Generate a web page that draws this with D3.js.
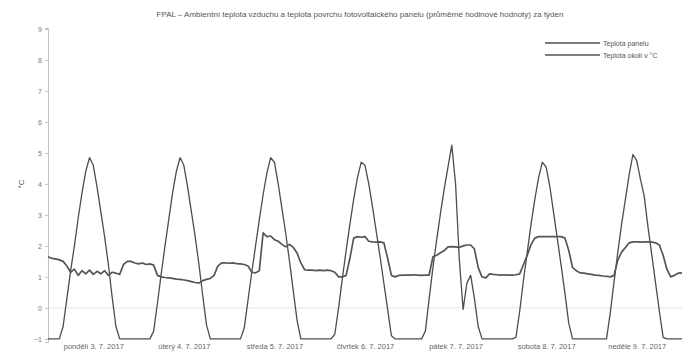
<!DOCTYPE html>
<html>
<head>
<meta charset="utf-8">
<script src="https://cdn.jsdelivr.net/npm/d3@7/dist/d3.min.js"></script>
<style>
  html, body { margin: 0; padding: 0; background: #fff; }
  svg { display: block; font-family: "Liberation Sans", Arial, sans-serif; }
</style>
</head>
<body>
<svg id="chart" width="688" height="354"></svg>
<script>
// Week of hourly readings, 00:00 on the first day through 00:00 after the last
const startDate = "2017-07-03T00:00:00";
const dayLabels = ["pondělí 3. 7. 2017", "úterý 4. 7. 2017", "středa 5. 7. 2017", "čtvrtek 6. 7. 2017",
                   "pátek 7. 7. 2017", "sobota 8. 7. 2017", "neděle 9. 7. 2017"];
const yTicks = [-1, 0, 1, 2, 3, 4, 5, 6, 7, 8, 9];

const titleText = "FPAL – Ambientní teplota vzduchu a teplota povrchu fotovoltaického panelu (průměrné hodinové hodnoty) za týden";
const seriesNames = ["Teplota panelu", "Teplota okolí v °C"];

// Panel surface temperature, one row per day (24 hourly values), plus closing value
const panelDay1 = [-1,-1,-1,-1,-0.6,0.3,1.2,2.0,2.9,3.7,4.4,4.85,4.6,3.9,3.1,2.3,1.4,0.35,-0.6,-1,-1,-1,-1,-1];
const panelDay2 = [-1,-1,-1,-1,-0.75,0.15,1.1,2.0,2.85,3.7,4.4,4.85,4.6,3.9,3.1,2.3,1.4,0.4,-0.55,-1,-1,-1,-1,-1];
const panelDay3 = [-1,-1,-1,-1,-0.65,0.25,1.15,2.0,2.85,3.65,4.35,4.85,4.7,4.0,3.2,2.4,1.5,0.55,-0.4,-1,-1,-1,-1,-1];
const panelDay4 = [-1,-1,-1,-1,-0.85,0.0,0.95,1.85,2.7,3.5,4.2,4.7,4.6,4.0,3.25,2.45,1.65,0.8,-0.05,-0.9,-1,-1,-1,-1];
const panelDay5 = [-1,-1,-1,-1,-0.75,0.3,1.3,2.2,3.05,3.85,4.55,5.25,4.0,1.55,-0.05,0.8,1.05,0.3,-0.6,-1,-1,-1,-1,-1];
const panelDay6 = [-1,-1,-1,-1,-0.95,-0.1,0.9,1.8,2.7,3.5,4.2,4.7,4.55,3.9,3.05,2.2,1.35,0.45,-0.5,-1,-1,-1,-1,-1];
const panelDay7 = [-1,-1,-1,-1,-1,-0.15,0.85,1.8,2.7,3.5,4.3,4.95,4.75,4.15,3.6,2.6,1.7,0.8,-0.1,-0.95,-1,-1,-1,-1];
const panelEnd = [-1];

// Ambient air temperature, 169 hourly values
const ambient = [
  1.65,1.6,1.58,1.55,1.5,1.35,1.15,1.25,1.05,1.2,1.1,1.22,1.08,1.18,1.1,1.2,1.05,1.15,1.12,1.08,1.4,1.5,1.5,1.45,
  1.42,1.45,1.4,1.42,1.38,1.05,1.0,0.98,0.97,0.95,0.93,0.92,0.9,0.88,0.85,0.82,0.8,0.88,0.92,0.95,1.05,1.35,1.45,1.45,
  1.44,1.45,1.43,1.42,1.4,1.35,1.15,1.13,1.2,2.42,2.3,2.32,2.2,2.15,2.05,1.97,2.05,1.95,1.77,1.45,1.23,1.22,1.22,1.2,
  1.22,1.2,1.22,1.2,1.15,1.0,1.0,1.05,1.6,2.25,2.3,2.28,2.3,2.15,2.13,2.12,2.13,2.1,1.6,1.05,1.0,1.05,1.06,1.06,
  1.06,1.07,1.06,1.05,1.06,1.06,1.65,1.7,1.78,1.85,1.97,1.98,1.97,1.95,2.0,2.03,2.03,1.9,1.3,1.0,0.97,1.1,1.08,1.07,
  1.06,1.07,1.06,1.06,1.07,1.1,1.4,1.7,2.05,2.25,2.3,2.3,2.3,2.3,2.3,2.3,2.3,2.25,1.85,1.3,1.2,1.13,1.12,1.1,
  1.08,1.06,1.05,1.03,1.02,1.0,1.05,1.55,1.8,1.95,2.1,2.13,2.13,2.12,2.13,2.13,2.12,2.1,2.03,1.7,1.25,1.0,1.05,1.12,
  1.13
];

const panel = [].concat(panelDay1, panelDay2, panelDay3, panelDay4, panelDay5, panelDay6, panelDay7, panelEnd);

const t0 = new Date(startDate);
const timeAt = i => d3.timeHour.offset(t0, i);

const svg = d3.select("#chart");
const margin = { left: 48, right: 6, top: 28, bottom: 12 };
const W = 688, H = 354;

const x = d3.scaleTime()
  .domain([t0, d3.timeDay.offset(t0, 7)])
  .range([margin.left, W - margin.right]);
const y = d3.scaleLinear()
  .domain([-1.1, 9.03])
  .range([H - margin.bottom, margin.top]);

const gray = "#4d4d4d";

// Title
svg.append("text")
  .attr("x", 360).attr("y", 17)
  .attr("text-anchor", "middle")
  .attr("font-size", 8).attr("fill", "#555")
  .text(titleText);

// Zero reference line
svg.append("line")
  .attr("x1", margin.left).attr("x2", W - margin.right)
  .attr("y1", y(0)).attr("y2", y(0))
  .attr("stroke", "#e2e2e2").attr("stroke-width", 1);

// Y axis
const yAxis = d3.axisLeft(y).tickValues(yTicks).tickSize(3).tickFormat(d3.format("d"));
const gy = svg.append("g").attr("transform", `translate(${margin.left},0)`).call(yAxis);
gy.select(".domain").attr("stroke", "#c4c4c4");
gy.selectAll(".tick line").attr("stroke", "#c4c4c4");
gy.selectAll(".tick text").attr("fill", "#777").attr("font-size", 7);

// Y axis title
svg.append("text")
  .attr("transform", `translate(24,${y(4)}) rotate(-90)`)
  .attr("text-anchor", "middle")
  .attr("font-size", 8).attr("fill", "#555")
  .text("°C");

// X axis: labels at noon of each day
const noonTicks = dayLabels.map((_, i) => d3.timeHour.offset(d3.timeDay.offset(t0, i), 12));
const xAxis = d3.axisBottom(x).tickValues(noonTicks).tickSize(0)
  .tickFormat((d, i) => dayLabels[i]);
const gx = svg.append("g").attr("transform", `translate(0,${H - margin.bottom})`).call(xAxis);
gx.select(".domain").remove();
gx.selectAll(".tick text").attr("fill", "#666").attr("font-size", 7.5).attr("dy", "0.55em");

// Series
const line = vals => d3.line()
  .x((d, i) => x(timeAt(i)))
  .y(d => y(d))(vals);

svg.append("path")
  .attr("d", line(panel))
  .attr("fill", "none").attr("stroke", gray).attr("stroke-width", 1.3)
  .attr("stroke-linejoin", "round");

svg.append("path")
  .attr("d", line(ambient))
  .attr("fill", "none").attr("stroke", "#555").attr("stroke-width", 1.7)
  .attr("stroke-linejoin", "round");

// Legend
const legend = svg.append("g").attr("transform", "translate(545,43)");
seriesNames.forEach((name, i) => {
  const row = legend.append("g").attr("transform", `translate(0,${i * 12})`);
  row.append("line").attr("x1", 0).attr("x2", 55).attr("y1", 0).attr("y2", 0)
    .attr("stroke", i === 0 ? gray : "#555").attr("stroke-width", i === 0 ? 1.3 : 1.7);
  row.append("text").attr("x", 58).attr("y", 2.5)
    .attr("font-size", 7).attr("fill", "#555").text(name);
});
</script>
</body>
</html>
